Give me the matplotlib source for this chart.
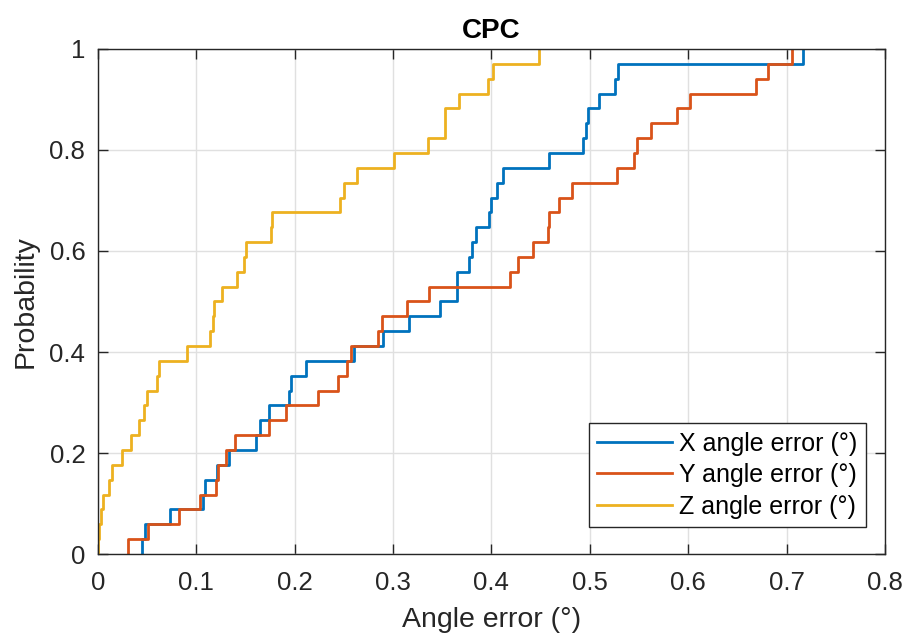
import numpy as np
import matplotlib
matplotlib.use('Agg')
import matplotlib.pyplot as plt

plt.rcParams['font.family'] = ['Liberation Sans', 'DejaVu Sans']

x_err = [0.0449, 0.0476, 0.0737, 0.107, 0.1085, 0.1212, 0.133, 0.1605, 0.1646,
         0.1738, 0.1944, 0.196, 0.2114, 0.2606, 0.290, 0.3165, 0.3477, 0.3647,
         0.365, 0.3772, 0.380, 0.3843, 0.3976, 0.3996, 0.4053, 0.412, 0.4589,
         0.4935, 0.496, 0.498, 0.5095, 0.5257, 0.529, 0.7163]
y_err = [0.0306, 0.051, 0.0825, 0.1036, 0.1198, 0.1222, 0.1307, 0.1399, 0.1738,
         0.191, 0.224, 0.2443, 0.2528, 0.2572, 0.285, 0.2884, 0.3138, 0.3363,
         0.4185, 0.4268, 0.4418, 0.4573, 0.4585, 0.4688, 0.4823, 0.5274, 0.5454,
         0.5484, 0.562, 0.5885, 0.602, 0.669, 0.6806, 0.7055]
z_err = [0.0005, 0.001, 0.003, 0.0054, 0.0116, 0.014, 0.0245, 0.0337, 0.042,
         0.0467, 0.050, 0.060, 0.062, 0.0906, 0.1144, 0.117, 0.118, 0.126,
         0.141, 0.1485, 0.151, 0.1765, 0.177, 0.2458, 0.2499, 0.263, 0.301,
         0.3351, 0.3528, 0.353, 0.3675, 0.3964, 0.4015, 0.4485]

labels = ['X angle error (°)', 'Y angle error (°)', 'Z angle error (°)']
colors = ['#0072BD', '#D95319', '#EDB120']

xticks = [0, 0.1, 0.2, 0.3, 0.4, 0.5, 0.6, 0.7, 0.8]
yticks = [0, 0.2, 0.4, 0.6, 0.8, 1]


def ecdf_xy(vals):
    v = np.sort(np.asarray(vals))
    n = len(v)
    xs = np.concatenate([[v[0]], v])
    ys = np.concatenate([[0], np.arange(1, n + 1) / n])
    return xs, ys


fig = plt.figure(figsize=(9.05, 6.36), dpi=100)
ax = fig.add_axes([0.1081, 0.1289, 0.8698, 0.7941])

for vals, lab, col in zip([x_err, y_err, z_err], labels, colors):
    xs, ys = ecdf_xy(vals)
    ax.step(xs, ys, where='post', color=col, lw=2, label=lab)

ax.set_xlim(0, 0.8)
ax.set_ylim(0, 1)
ax.set_xticks(xticks)
ax.set_yticks(yticks)
ax.set_xticklabels(['0', '0.1', '0.2', '0.3', '0.4', '0.5', '0.6', '0.7', '0.8'])
ax.set_yticklabels(['0', '0.2', '0.4', '0.6', '0.8', '1'])
ax.grid(True, color='#e0e0e0', lw=1)
ax.set_axisbelow(True)
ax.tick_params(direction='in', length=7, width=1, colors='#262626',
               labelsize=18.5, top=True, right=True)
ax.tick_params(axis='x', pad=12)
ax.tick_params(axis='y', pad=9)
for s in ax.spines.values():
    s.set_color('#262626')
    s.set_linewidth(1)

ax.set_xlabel('Angle error (°)', fontsize=20.5, color='#262626', labelpad=9)
ax.set_ylabel('Probability', fontsize=20.5, color='#262626', labelpad=8)
ax.set_title('CPC', fontsize=20, fontweight='bold', pad=8)

leg = ax.legend(loc='lower right', bbox_to_anchor=(0.9758, 0.0535),
                borderaxespad=0, fontsize=18, handlelength=3.0,
                handletextpad=0.3, labelspacing=0.3, borderpad=0.33,
                fancybox=False, framealpha=1, edgecolor='#262626')
leg.get_frame().set_linewidth(1)

fig.savefig('out.png', dpi=100)
